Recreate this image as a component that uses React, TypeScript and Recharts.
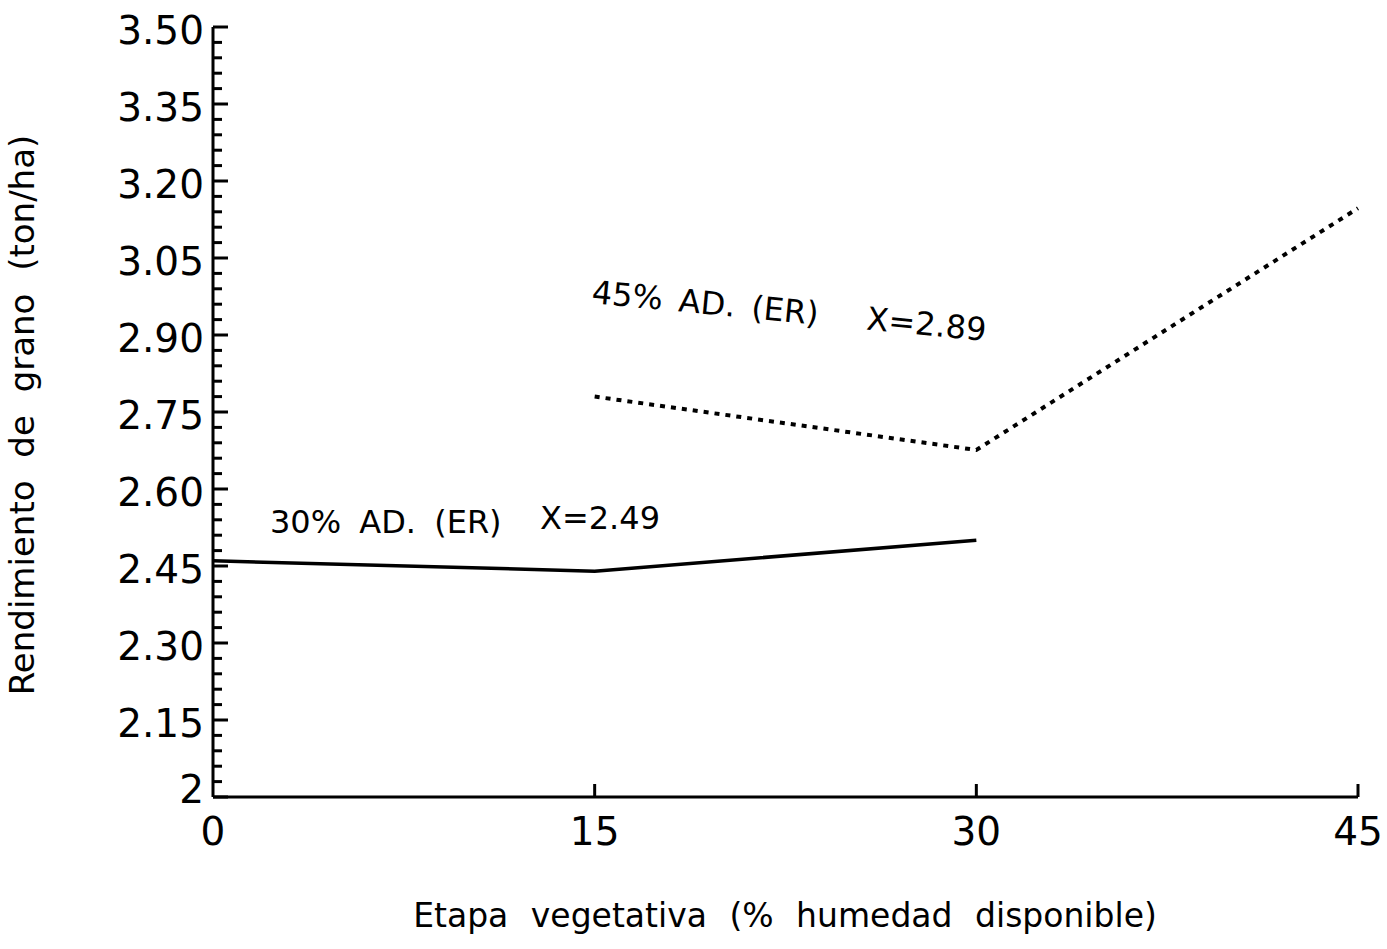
import { LineChart, Line, XAxis, YAxis } from 'recharts';

// etapa vegetativa (% humedad disponible)
const humedad = [0, 15, 30, 45];
// rendimiento de grano (ton/ha) por tratamiento en etapa reproductiva
const ad30 = [2.46, 2.44, 2.5, null];
const ad45 = [null, 2.78, 2.676, 3.147];

const yMajor = [2, 2.15, 2.3, 2.45, 2.6, 2.75, 2.9, 3.05, 3.2, 3.35, 3.5];
const yLabels = ['2', '2.15', '2.30', '2.45', '2.60', '2.75', '2.90', '3.05', '3.20', '3.35', '3.50'];
const xLabels = ['0', '15', '30', '45'];
const MINOR_PER_MAJOR = 5;

const FONT = '"DejaVu Sans", "Liberation Sans", sans-serif';

const data = humedad.map((h, i) => ({ h, ad30: ad30[i], ad45: ad45[i] }));

// every minor tick, majors included
const yTicks: number[] = [];
yMajor.forEach((v, i) => {
  yTicks.push(v);
  if (i < yMajor.length - 1) {
    const step = (yMajor[i + 1] - v) / MINOR_PER_MAJOR;
    for (let k = 1; k < MINOR_PER_MAJOR; k++) yTicks.push(+(v + step * k).toFixed(3));
  }
});

function YTick({ x, y, payload }: any) {
  const idx = yMajor.findIndex((m) => Math.abs(m - payload.value) < 1e-6);
  const major = idx >= 0;
  return (
    <g>
      <line x1={x} x2={x + (major ? 15 : 9)} y1={y} y2={y} stroke="#000" strokeWidth={3} />
      {major && (
        <text
          x={x - 9}
          y={y + (idx === 0 ? -8 : 3)}
          textAnchor="end"
          dominantBaseline="central"
          fontFamily={FONT}
          fontSize={39}
          fill="#000"
        >
          {yLabels[idx]}
        </text>
      )}
    </g>
  );
}

function XTick({ x, y, payload }: any) {
  const idx = humedad.indexOf(payload.value);
  return (
    <g>
      {payload.value > 0 && <line x1={x} x2={x} y1={y} y2={y - 13} stroke="#000" strokeWidth={3} />}
      <text
        x={x}
        y={y + 34}
        textAnchor="middle"
        dominantBaseline="central"
        fontFamily={FONT}
        fontSize={39}
        fill="#000"
      >
        {xLabels[idx]}
      </text>
    </g>
  );
}

const note: React.CSSProperties = {
  position: 'absolute',
  fontFamily: FONT,
  fontSize: 32,
  lineHeight: '32px',
  whiteSpace: 'pre',
  color: '#000',
};

export default function App() {
  return (
    <div style={{ position: 'absolute', left: 0, top: 0, width: 1387, height: 949, background: '#fff' }}>
      <LineChart
        width={1387}
        height={949}
        data={data}
        margin={{ top: 27, right: 29, left: 153, bottom: 92 }}
      >
        <XAxis
          dataKey="h"
          type="number"
          domain={[0, 45]}
          ticks={humedad}
          interval={0}
          height={60}
          tickSize={0}
          tickMargin={0}
          tick={<XTick />}
          axisLine={{ stroke: '#000', strokeWidth: 3 }}
        />
        <YAxis
          type="number"
          domain={[2, 3.5]}
          ticks={yTicks}
          interval={0}
          width={60}
          tickSize={0}
          tickMargin={0}
          tick={<YTick />}
          axisLine={{ stroke: '#000', strokeWidth: 3 }}
        />
        <Line
          dataKey="ad30"
          type="linear"
          stroke="#000"
          strokeWidth={3.5}
          dot={false}
          isAnimationActive={false}
        />
        <Line
          dataKey="ad45"
          type="linear"
          stroke="#000"
          strokeWidth={4}
          strokeDasharray="5 6"
          dot={false}
          isAnimationActive={false}
        />
      </LineChart>

      <div style={{ ...note, left: 270, top: 506, wordSpacing: 8 }}>30% AD. (ER)</div>
      <div style={{ ...note, left: 540, top: 502 }}>X=2.49</div>
      <div
        style={{
          position: 'absolute',
          left: 592,
          top: 276,
          transform: 'rotate(5.5deg)',
          transformOrigin: 'left center',
        }}
      >
        <div style={{ ...note, position: 'relative', wordSpacing: 6 }}>
          {'45% AD. (ER)   X=2.89'}
        </div>
      </div>

      <div style={{ ...note, left: 0, top: 900, width: 1570, textAlign: 'center', fontSize: 33, wordSpacing: 12 }}>
        Etapa vegetativa (% humedad disponible)
      </div>
      <div
        style={{
          ...note,
          fontSize: 34,
          left: 22,
          top: 415,
          transform: 'translate(-50%, -50%) rotate(-90deg)',
          wordSpacing: 12,
        }}
      >
        Rendimiento de grano (ton/ha)
      </div>
    </div>
  );
}
